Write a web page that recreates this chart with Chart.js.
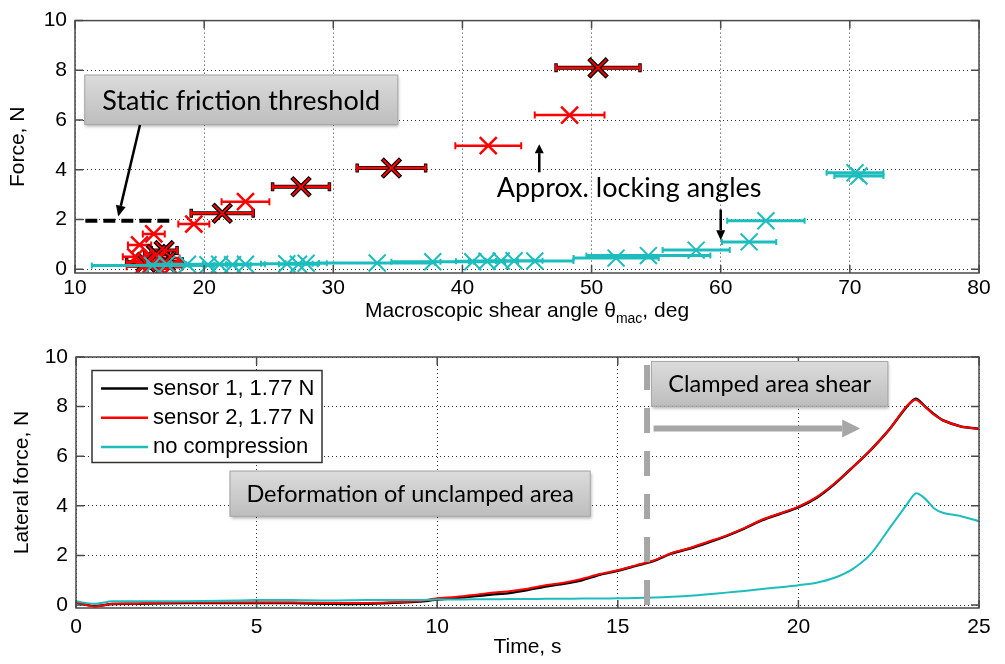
<!DOCTYPE html>
<html>
<head>
<meta charset="utf-8">
<script src="https://cdn.jsdelivr.net/npm/chart.js@4.4.0/dist/chart.umd.min.js"></script>
<style>
  body { margin: 0; background: #fff; }
  #wrap { position: relative; width: 1005px; height: 664px; }
  .panel { position: absolute; left: 0; width: 1005px; height: 332px; }
</style>
</head>
<body>
<div id="wrap">
  <div class="panel" style="top:0"><canvas id="shearChart" width="1005" height="332"></canvas></div>
  <div class="panel" style="top:332px"><canvas id="timeChart" width="1005" height="332"></canvas></div>
</div>
<script>
// ---- top panel: force vs macroscopic shear angle (x = angle, y = force, err = half width) ----
const redAngle  = [19.2, 23.2, 42.0, 48.3, 16.1, 15.0, 14.7, 16.5, 15.2, 16.6, 17.4, 15.9];
const redForce  = [1.82, 2.72, 4.97, 6.20, 1.42, 0.98, 0.50, 0.45, 0.10, 0.02, 0.08, 0.20];
const redErr    = [1.2, 1.85, 2.55, 2.7, 0.85, 0.9, 1.0, 1.6, 1.2, 1.0, 0.9, 1.1];

const darkAngle = [21.4, 27.5, 34.5, 50.5, 16.9, 15.5, 16.3, 17.0];
const darkForce = [2.25, 3.32, 4.07, 8.10, 0.75, 0.28, 0.60, 0.30];
const darkErr   = [2.4, 2.2, 2.65, 3.25, 1.0, 1.5, 0.9, 1.3];

const cyanAngle = [16.0, 17.1, 18.7, 20.3, 21.2, 22.2, 23.2, 26.4, 27.3, 27.9, 33.4, 37.7,
                   40.8, 41.9, 43.0, 44.0, 45.6, 51.9, 54.4, 58.1, 62.2, 63.5, 70.4, 70.7];
const cyanForce = [0.15, 0.20, 0.20, 0.18, 0.20, 0.18, 0.20, 0.22, 0.20, 0.24, 0.25, 0.30,
                   0.30, 0.32, 0.33, 0.34, 0.33, 0.45, 0.55, 0.77, 1.10, 1.95, 3.88, 3.75];
const cyanErr   = [4.7, 1.5, 1.2, 1.5, 1.3, 1.4, 1.5, 2.0, 1.5, 1.6, 4.5, 3.2,
                   2.5, 2.4, 2.5, 2.2, 3.0, 3.3, 4.8, 2.6, 2.1, 3.0, 2.2, 1.9];

const thresholdAngle = [10.8, 17.6];
const thresholdForce = [1.95, 1.95];

const angleTicks = [10, 20, 30, 40, 50, 60, 70, 80];
const forceTicks = [0, 2, 4, 6, 8, 10];

// ---- bottom panel: lateral force vs time ----
const timeS = [0, 0.5, 1, 1.5, 2, 3, 4, 5, 6, 7, 8, 9, 9.5, 10, 10.5, 11, 11.5, 12, 12.5, 13,
               13.5, 14, 14.5, 15, 15.5, 16, 16.5, 17, 17.5, 18, 18.5, 19, 19.5, 20, 20.5, 21,
               21.5, 22, 22.5, 23, 23.25, 23.5, 23.75, 24, 24.5, 25];
const sensor1 = [0.10, -0.04, 0.04, 0.05, 0.06, 0.08, 0.08, 0.08, 0.08, 0.05, 0.05, 0.10, 0.14, 0.22, 0.28, 0.35,
                 0.42, 0.48, 0.60, 0.75, 0.86, 1.00, 1.22, 1.38, 1.58, 1.78, 2.08, 2.28, 2.52, 2.78,
                 3.08, 3.42, 3.68, 3.94, 4.32, 4.88, 5.55, 6.25, 7.05, 8.00, 8.32, 8.02, 7.70, 7.45,
                 7.20, 7.10];
const sensor2 = [0.10, -0.06, 0.05, 0.05, 0.08, 0.10, 0.10, 0.10, 0.10, 0.08, 0.08, 0.12, 0.16, 0.27, 0.32, 0.40,
                 0.50, 0.56, 0.66, 0.80, 0.90, 1.05, 1.25, 1.40, 1.60, 1.80, 2.10, 2.30, 2.55, 2.80,
                 3.10, 3.45, 3.70, 3.97, 4.35, 4.90, 5.55, 6.25, 7.05, 8.02, 8.28, 8.00, 7.68, 7.45,
                 7.20, 7.10];
const noCompression = [0.15, 0.05, 0.15, 0.15, 0.15, 0.15, 0.17, 0.20, 0.20, 0.18, 0.20, 0.20, 0.20, 0.22, 0.22,
                       0.23, 0.23, 0.24, 0.24, 0.25, 0.25, 0.26, 0.26, 0.27, 0.28, 0.30, 0.33, 0.37, 0.43,
                       0.50, 0.57, 0.65, 0.72, 0.80, 0.90, 1.10, 1.45, 2.05, 3.05, 4.05, 4.50, 4.30, 3.90,
                       3.72, 3.58, 3.38];
const clampTime = [15.81, 15.81];
const clampForce = [9.68, -0.12];

const timeTicks = [0, 5, 10, 15, 20, 25];
const legendLabels = ['sensor 1, 1.77 N', 'sensor 2, 1.77 N', 'no compression'];

const RED = '#ff0000', CYAN = '#1dbdbd', BLACK = '#000000';

Chart.defaults.font.family = '"Liberation Sans", Arial, sans-serif';
Chart.defaults.font.size = 21;
Chart.defaults.color = '#000';

function points(xs, ys) {
  return xs.map((x, i) => ({x: x, y: ys[i]}));
}
function errorBars(xs, ys, errs) {
  const out = [];
  xs.forEach((x, i) => {
    out.push({x: x - errs[i], y: ys[i]}, {x: x + errs[i], y: ys[i]}, {x: x, y: null});
  });
  return out;
}
function fixTicks(values) {
  return scale => { scale.ticks = values.map(v => ({value: v})); };
}

function drawArrow(ctx, x0, y0, x1, y1, w, head, half, color) {
  const a = Math.atan2(y1 - y0, x1 - x0);
  const bx = x1 - head * Math.cos(a), by = y1 - head * Math.sin(a);
  ctx.strokeStyle = color; ctx.lineWidth = w; ctx.lineCap = 'butt';
  ctx.setLineDash([]);
  ctx.beginPath(); ctx.moveTo(x0, y0); ctx.lineTo(bx, by); ctx.stroke();
  ctx.fillStyle = color;
  ctx.beginPath();
  ctx.moveTo(x1, y1);
  ctx.lineTo(bx + half * Math.sin(a), by - half * Math.cos(a));
  ctx.lineTo(bx - half * Math.sin(a), by + half * Math.cos(a));
  ctx.closePath(); ctx.fill();
}

// matlab style box with inward ticks
const axesBox = {
  id: 'axesBox',
  afterDraw(chart) {
    const {ctx, chartArea: a} = chart;
    const xs = chart.scales.x, ys = chart.scales.y;
    ctx.save();
    ctx.strokeStyle = '#4a4a4a'; ctx.lineWidth = 1.5;
    ctx.strokeRect(a.left, a.top, a.right - a.left, a.bottom - a.top);
    ctx.beginPath();
    xs.ticks.forEach(t => {
      const p = xs.getPixelForValue(t.value);
      ctx.moveTo(p, a.bottom); ctx.lineTo(p, a.bottom - 8);
      ctx.moveTo(p, a.top); ctx.lineTo(p, a.top + 8);
    });
    ys.ticks.forEach(t => {
      const p = ys.getPixelForValue(t.value);
      ctx.moveTo(a.left, p); ctx.lineTo(a.left + 8, p);
      ctx.moveTo(a.right, p); ctx.lineTo(a.right - 8, p);
    });
    ctx.stroke();
    ctx.restore();
  }
};

// text boxes and arrows, placed in data units
const notes = {
  id: 'notes',
  afterDraw(chart, args, opts) {
    const ctx = chart.ctx;
    const px = v => chart.scales.x.getPixelForValue(v);
    const py = v => chart.scales.y.getPixelForValue(v);
    ctx.save();
    (opts.boxes || []).forEach(b => {
      const x0 = px(b.x0), x1 = px(b.x1), y0 = py(b.y0), y1 = py(b.y1);
      const g = ctx.createLinearGradient(0, y0, 0, y1);
      g.addColorStop(0, '#dcdcdc'); g.addColorStop(1, '#bdbdbd');
      ctx.shadowColor = 'rgba(0,0,0,0.3)'; ctx.shadowOffsetX = 1; ctx.shadowOffsetY = 2; ctx.shadowBlur = 3;
      ctx.fillStyle = g;
      ctx.fillRect(x0, y0, x1 - x0, y1 - y0);
      ctx.shadowColor = 'transparent';
      ctx.strokeStyle = '#a8a8a8'; ctx.lineWidth = 1;
      ctx.strokeRect(x0 + 0.5, y0 + 0.5, x1 - x0 - 1, y1 - y0 - 1);
      ctx.fillStyle = '#000'; ctx.font = (b.size || 27) + 'px Lato';
      ctx.textAlign = 'center'; ctx.textBaseline = 'middle';
      ctx.fillText(b.text, (x0 + x1) / 2, (y0 + y1) / 2 + 1);
    });
    (opts.labels || []).forEach(l => {
      ctx.fillStyle = '#000'; ctx.font = (l.size || 27) + 'px Lato';
      ctx.textAlign = 'left'; ctx.textBaseline = 'middle';
      ctx.fillText(l.text, px(l.x), py(l.y));
    });
    (opts.arrows || []).forEach(r => {
      drawArrow(ctx, px(r.x0), py(r.y0), px(r.x1), py(r.y1), r.width, r.head, r.half, r.color);
    });
    ctx.restore();
  }
};

// x title of the top panel, with subscript
const shearTitle = {
  id: 'shearTitle',
  afterDraw(chart) {
    const ctx = chart.ctx, a = chart.chartArea;
    const main = '21px "Liberation Sans", Arial, sans-serif';
    const sub = '14px "Liberation Sans", Arial, sans-serif';
    const p1 = 'Macroscopic shear angle \u03b8', p2 = 'mac', p3 = ', deg';
    ctx.save();
    ctx.font = main; const w1 = ctx.measureText(p1).width, w3 = ctx.measureText(p3).width;
    ctx.font = sub; const w2 = ctx.measureText(p2).width;
    let x = (a.left + a.right) / 2 - (w1 + w2 + w3) / 2;
    const y = 317;
    ctx.fillStyle = '#000'; ctx.textBaseline = 'alphabetic'; ctx.textAlign = 'left';
    ctx.font = main; ctx.fillText(p1, x, y); x += w1;
    ctx.font = sub; ctx.fillText(p2, x, y + 6); x += w2;
    ctx.font = main; ctx.fillText(p3, x, y);
    ctx.restore();
  }
};

// legend inside the bottom axes
const boxLegend = {
  id: 'boxLegend',
  afterDraw(chart) {
    const ctx = chart.ctx, a = chart.chartArea;
    const items = chart.data.datasets.filter(d => d.inLegend).sort((p, q) => p.inLegend - q.inLegend);
    const x0 = a.left + 16, y0 = a.top + 13.5;
    ctx.save();
    ctx.fillStyle = '#fff'; ctx.fillRect(x0, y0, 230, 92);
    ctx.strokeStyle = '#333'; ctx.lineWidth = 1.5; ctx.strokeRect(x0, y0, 230, 92);
    ctx.font = '22px "Liberation Sans", Arial, sans-serif';
    ctx.textBaseline = 'middle'; ctx.textAlign = 'left';
    items.forEach((d, i) => {
      const y = y0 + 18 + i * 29.2;
      ctx.strokeStyle = d.borderColor; ctx.lineWidth = 2.5;
      ctx.beginPath(); ctx.moveTo(x0 + 9, y); ctx.lineTo(x0 + 56, y); ctx.stroke();
      ctx.fillStyle = '#000'; ctx.fillText(d.label, x0 + 61, y);
    });
    ctx.restore();
  }
};

const gridStyle = {color: '#333', lineWidth: 1, drawTicks: false};
const gridBorder = {display: false, dash: [1, 3]};

new Chart(document.getElementById('shearChart'), {
  type: 'scatter',
  data: {
    datasets: [
      {label: 'no compression', data: points(cyanAngle, cyanForce), pointStyle: 'crossRot',
       pointRadius: 12, borderColor: CYAN, backgroundColor: CYAN, pointBorderWidth: 2},
      {label: 'cyan error', data: errorBars(cyanAngle, cyanForce, cyanErr), showLine: true,
       borderColor: CYAN, borderWidth: 3, pointStyle: 'line', pointRotation: 90, pointRadius: 3,
       pointBorderWidth: 2, pointBorderColor: CYAN},
      {label: 'red', data: points(redAngle, redForce), pointStyle: 'crossRot', pointRadius: 12,
       borderColor: RED, pointBorderWidth: 2.5},
      {label: 'dark red', data: points(darkAngle, darkForce), pointStyle: 'crossRot', pointRadius: 12,
       borderColor: RED, pointBorderWidth: 2},
      {label: 'dark', data: points(darkAngle, darkForce), pointStyle: 'crossRot', pointRadius: 13,
       borderColor: BLACK, pointBorderWidth: 4.5},
      {label: 'red error', data: errorBars(redAngle.concat(darkAngle), redForce.concat(darkForce), redErr.concat(darkErr)),
       showLine: true, borderColor: RED, borderWidth: 2.5, pointStyle: 'line', pointRotation: 90,
       pointRadius: 3.5, pointBorderWidth: 2, pointBorderColor: RED},
      {label: 'dark error', data: errorBars(darkAngle, darkForce, darkErr), showLine: true,
       borderColor: BLACK, borderWidth: 4, pointStyle: 'line', pointRotation: 90, pointRadius: 4.5,
       pointBorderWidth: 3.5, pointBorderColor: BLACK},
      {label: 'threshold', data: points(thresholdAngle, thresholdForce), showLine: true,
       borderColor: BLACK, borderWidth: 4, borderDash: [12, 6], pointRadius: 0}
    ]
  },
  options: {
    responsive: false,
    animation: false,
    layout: {padding: {top: 19, right: 26, left: 0, bottom: 0}},
    plugins: {
      legend: {display: false},
      tooltip: {enabled: false},
      notes: {
        boxes: [{x0: 10.72, x1: 35.03, y0: 7.83, y1: 5.80, text: 'Static friction threshold', size: 27}],
        labels: [{x: 42.65, y: 3.25, text: 'Approx. locking angles', size: 27}],
        arrows: [
          {x0: 15.03, y0: 5.80, x1: 13.35, y1: 2.12, width: 2.5, head: 11, half: 5, color: BLACK},
          {x0: 45.95, y0: 3.9, x1: 45.95, y1: 5.03, width: 2.5, head: 9, half: 4.5, color: BLACK},
          {x0: 60.0, y0: 2.4, x1: 60.0, y1: 1.17, width: 2.5, head: 10, half: 4.5, color: BLACK}
        ]
      }
    },
    scales: {
      x: {
        type: 'linear', min: 10, max: 80,
        afterBuildTicks: fixTicks(angleTicks),
        afterFit: s => { s.height = 59; },
        grid: gridStyle, border: gridBorder,
        ticks: {padding: 3, maxRotation: 0}
      },
      y: {
        min: -0.15, max: 10,
        afterBuildTicks: fixTicks(forceTicks),
        afterFit: s => { s.width = 75; },
        grid: gridStyle, border: gridBorder,
        ticks: {padding: 8},
        title: {display: true, text: 'Force, N', font: {size: 21}, padding: {top: 6, bottom: 0}}
      }
    }
  },
  plugins: [axesBox, notes, shearTitle]
});

new Chart(document.getElementById('timeChart'), {
  type: 'line',
  data: {
    datasets: [
      {label: 'clamp', data: points(clampTime, clampForce), borderColor: '#a6a6a6', borderWidth: 6,
       borderDash: [25, 18], pointRadius: 0, order: -1},
      {label: legendLabels[2], inLegend: 3, data: points(timeS, noCompression), borderColor: CYAN,
       borderWidth: 2, pointRadius: 0, tension: 0.25, order: 0},
      {label: legendLabels[1], inLegend: 2, data: points(timeS, sensor2), borderColor: RED,
       borderWidth: 2, pointRadius: 0, tension: 0.25, order: 1},
      {label: legendLabels[0], inLegend: 1, data: points(timeS, sensor1), borderColor: BLACK,
       borderWidth: 2.5, pointRadius: 0, tension: 0.25, order: 2}
    ]
  },
  options: {
    responsive: false,
    animation: false,
    layout: {padding: {top: 25, right: 26, left: 0, bottom: 0}},
    plugins: {
      legend: {display: false},
      tooltip: {enabled: false},
      notes: {
        boxes: [
          {x0: 4.25, x1: 14.25, y0: 5.42, y1: 3.56, text: 'Deformation of unclamped area', size: 23.5},
          {x0: 15.92, x1: 22.49, y0: 9.84, y1: 8.0, text: 'Clamped area shear', size: 23.5}
        ],
        arrows: [
          {x0: 15.99, y0: 7.12, x1: 21.71, y1: 7.12, width: 6, head: 18, half: 9, color: '#a6a6a6'}
        ]
      }
    },
    scales: {
      x: {
        type: 'linear', min: 0, max: 25,
        afterBuildTicks: fixTicks(timeTicks),
        afterFit: s => { s.height = 56; },
        grid: gridStyle, border: gridBorder,
        ticks: {padding: 7, maxRotation: 0},
        title: {display: true, text: 'Time, s', font: {size: 21}, padding: {top: 0, bottom: 4}}
      },
      y: {
        min: -0.12, max: 10,
        afterBuildTicks: fixTicks(forceTicks),
        afterFit: s => { s.width = 76; },
        grid: gridStyle, border: gridBorder,
        ticks: {padding: 8},
        title: {display: true, text: 'Lateral force, N', font: {size: 21}, padding: {top: 10, bottom: 0}}
      }
    }
  },
  plugins: [axesBox, notes, boxLegend]
});
</script>
</body>
</html>
